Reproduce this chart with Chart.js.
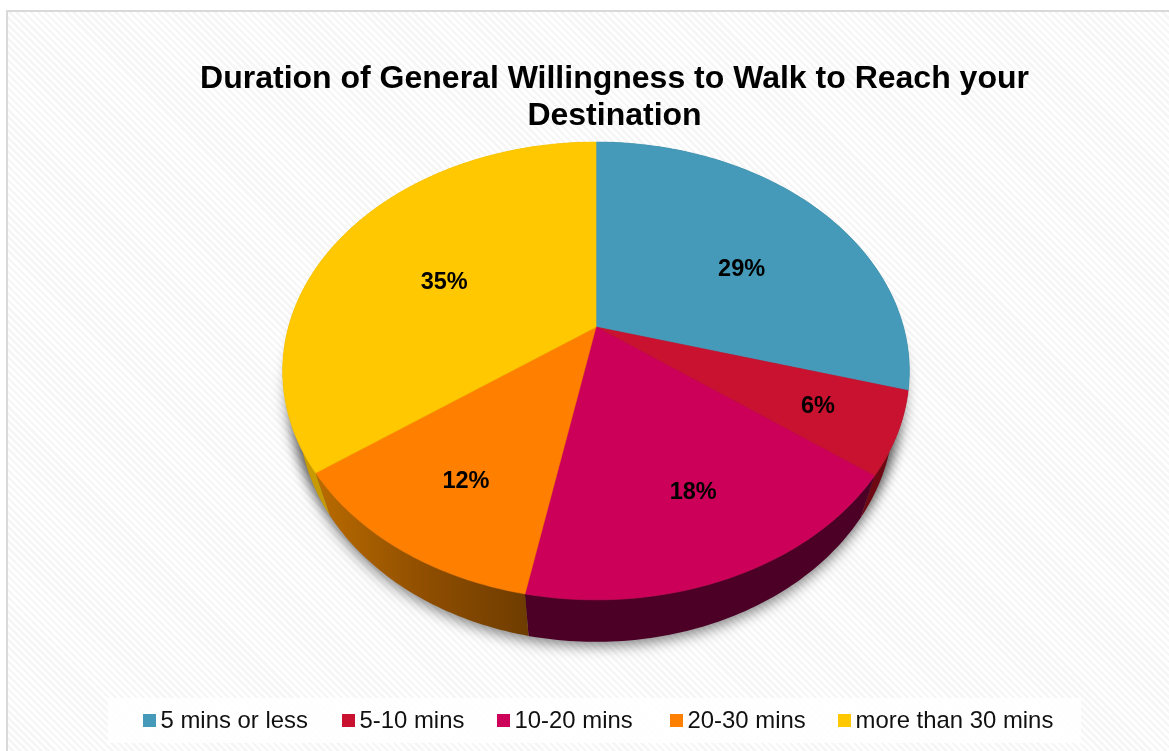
<!DOCTYPE html>
<html>
<head>
<meta charset="utf-8">
<title>Duration of General Willingness to Walk</title>
<script src="https://cdn.jsdelivr.net/npm/chart.js@4"></script>
<style>
  html, body { margin: 0; padding: 0; background: #fff; overflow: hidden; }
  #frame {
    position: absolute; left: 6px; top: 10px; width: 1163px; height: 741px;
    border-left: 2px solid #d9d9d9; border-top: 2px solid #d9d9d9; box-sizing: border-box;
    background: repeating-linear-gradient(45deg, #fff 0 2.5px, #f6f6f6 2.5px 5px);
  }
  #wrap { position: absolute; left: 0; top: 0; width: 1169px; height: 751px; }
  #legend {
    position: absolute; left: 108px; top: 698px; width: 973px; height: 45px;
    background: rgba(255,255,255,0.9);
    font: 23.9px "Liberation Sans", Arial, sans-serif; color: #111; line-height: 44px;
  }
  #legend span { position: absolute; top: 0; white-space: nowrap; }
  #legend i { position: absolute; top: 16px; width: 13px; height: 13px; }
</style>
</head>
<body>
<div id="frame"></div>
<div id="wrap"><canvas id="myChart" width="1169" height="751"></canvas></div>
<div id="legend"></div>
<script>
// data (labels show them rounded)
const categories = ['5 mins or less', '5-10 mins', '10-20 mins', '20-30 mins', 'more than 30 mins'];
const shares = [29.4, 5.8, 17.8, 12.0, 35.0];
const titleLines = ['Duration of General Willingness to Walk to Reach your', 'Destination'];

// styles
const topColors = ['#459ab9', '#c9122f', '#cc0058', '#ff8000', '#ffc800'];
const wallColors = ['#1f5568', '#6e0812', '#4d0026', '#8f5000', '#c69a00'];
const labelRadii = [0.6, 0.75, 0.7, 0.7, 0.55];
const labelNudges = [[8, 17], [1, 1], [8, 1], [0, 8], [-8, 8]];
const legendSwatchX = [35, 234, 389, 562, 730];

// the disc is tilted: flat circle -> perspective -> screen
const tilt = -0.192, squash = 0.717, depth = 42, taper = 0.95, pieShiftX = -18.5;

function project(arc, r, a, s, drop) {
  const u = r * Math.cos(a), v = r * Math.sin(a);
  const w = 1 + tilt * v;
  return [
    arc.x + pieShiftX + s * arc.outerRadius * u / w,
    arc.y + drop + squash * arc.outerRadius * v / w
  ];
}

function rimPath(ctx, arc, a0, a1, s, drop, first) {
  const n = Math.max(2, Math.ceil(Math.abs(a1 - a0) * 60));
  for (let i = 0; i <= n; i++) {
    const p = project(arc, 1, a0 + (a1 - a0) * i / n, s, drop);
    if (i === 0 && first) ctx.moveTo(p[0], p[1]); else ctx.lineTo(p[0], p[1]);
  }
}

const tiltedPie = {
  id: 'tiltedPie',
  beforeDatasetsDraw(chart) {
    const ctx = chart.ctx;
    const arcs = chart.getDatasetMeta(0).data;

    // soft shadow only: the shapes sit off canvas, their shadow falls back on it
    const away = 3000;
    ctx.save();
    ctx.shadowColor = 'rgba(0,0,0,0.5)';
    ctx.shadowBlur = 14;
    ctx.shadowOffsetX = away;
    ctx.shadowOffsetY = 4;
    ctx.fillStyle = '#000';
    ctx.translate(-away, 0);
    ctx.beginPath();
    rimPath(ctx, arcs[0], 0, Math.PI * 2, taper, depth, true);
    ctx.closePath();
    ctx.fill();
    ctx.beginPath();
    rimPath(ctx, arcs[0], 0, Math.PI * 2, 0.985, 18, true);
    ctx.closePath();
    ctx.fill();
    ctx.restore();

    // side wall
    arcs.forEach((arc, i) => {
      ctx.beginPath();
      rimPath(ctx, arc, arc.startAngle, arc.endAngle, 1, 0, true);
      rimPath(ctx, arc, arc.endAngle, arc.startAngle, taper, depth, false);
      ctx.closePath();
      if (i === 3) {
        const g = ctx.createLinearGradient(320, 0, 530, 0);
        g.addColorStop(0, '#b86a00');
        g.addColorStop(0.5, '#8f4e00');
        g.addColorStop(1, '#6e3c00');
        ctx.fillStyle = g;
      } else {
        ctx.fillStyle = wallColors[i];
      }
      ctx.fill();
    });

    // top face
    arcs.forEach((arc, i) => {
      const c = project(arc, 0, 0, 1, 0);
      ctx.beginPath();
      ctx.moveTo(c[0], c[1]);
      rimPath(ctx, arc, arc.startAngle, arc.endAngle, 1, 0, false);
      ctx.closePath();
      ctx.fillStyle = topColors[i];
      ctx.strokeStyle = topColors[i];
      ctx.lineWidth = 0.6;
      ctx.fill();
      ctx.stroke();
    });

    // percent labels
    ctx.fillStyle = '#000';
    ctx.font = 'bold 23.5px "Liberation Sans", Arial, sans-serif';
    ctx.textAlign = 'center';
    ctx.textBaseline = 'middle';
    arcs.forEach((arc, i) => {
      const mid = (arc.startAngle + arc.endAngle) / 2;
      const p = project(arc, labelRadii[i], mid, 1, 0);
      ctx.fillText(Math.round(shares[i]) + '%', p[0] + labelNudges[i][0], p[1] + labelNudges[i][1]);
    });
    return false;
  }
};

new Chart(document.getElementById('myChart').getContext('2d'), {
  type: 'pie',
  data: {
    labels: categories,
    datasets: [{ data: shares, backgroundColor: topColors, borderWidth: 0 }]
  },
  options: {
    responsive: false,
    animation: false,
    radius: 307.5,
    layout: { padding: { left: 60, right: 0, top: 0, bottom: 231.5 } },
    plugins: {
      legend: { display: false },
      tooltip: { enabled: false },
      title: {
        display: true,
        text: titleLines,
        color: '#000',
        font: { family: '"Liberation Sans", Arial, sans-serif', size: 32, weight: 'bold', lineHeight: 1.156 },
        padding: { top: 60.5, bottom: 0 }
      }
    }
  },
  plugins: [tiltedPie]
});

// legend strip
const legendBox = document.getElementById('legend');
categories.forEach((name, i) => {
  const sw = document.createElement('i');
  sw.style.left = legendSwatchX[i] + 'px';
  sw.style.background = topColors[i];
  legendBox.appendChild(sw);
  const txt = document.createElement('span');
  txt.style.left = (legendSwatchX[i] + 17.5) + 'px';
  txt.textContent = name;
  legendBox.appendChild(txt);
});
</script>
</body>
</html>
